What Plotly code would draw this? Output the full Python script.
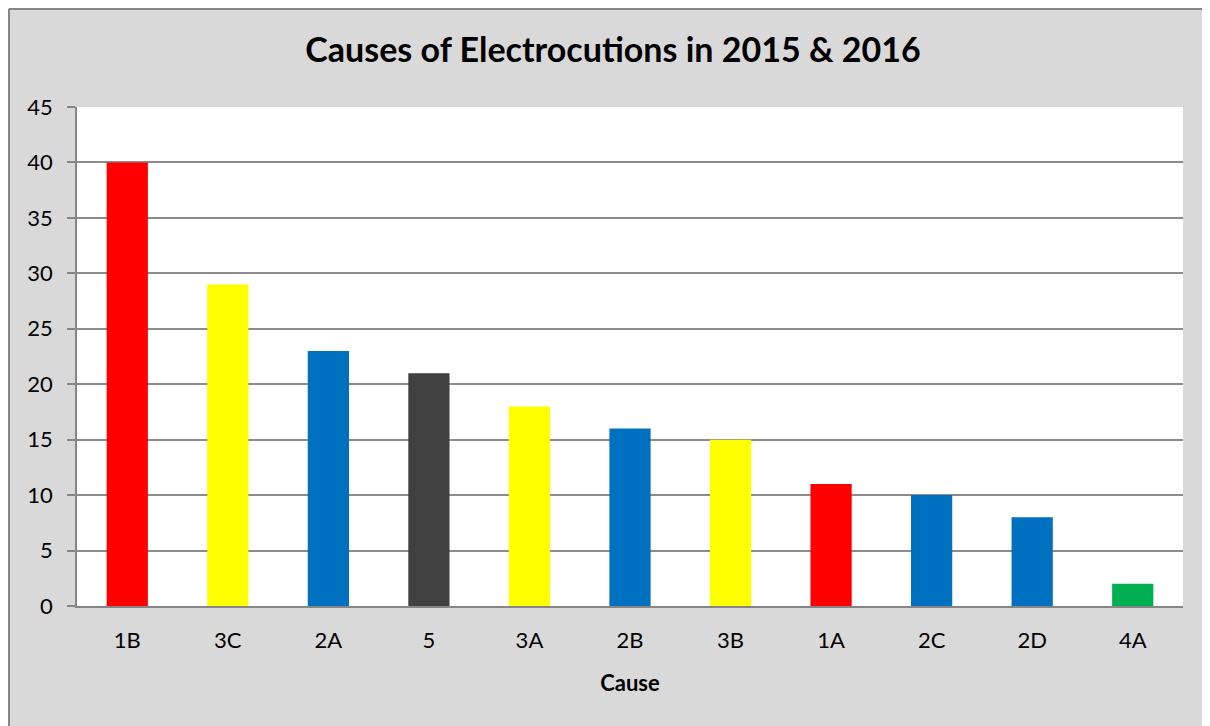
import plotly.graph_objects as go

causes = ['1B', '3C', '2A', '5', '3A', '2B', '3B', '1A', '2C', '2D', '4A']
counts = [40, 29, 23, 21, 18, 16, 15, 11, 10, 8, 2]
bar_colors = ['#FF0000', '#FFFF00', '#0070C0', '#404040', '#FFFF00', '#0070C0',
              '#FFFF00', '#FF0000', '#0070C0', '#0070C0', '#00B050']

# the page body adds an 8px margin, so the figure starts at (8, 8) on screen
W, H = 1210, 726
L, R, T, B = 69, 35, 99, 128
pw, ph = W - L - R, H - T - B

fig = go.Figure(go.Bar(
    x=causes,
    y=counts,
    marker=dict(color=bar_colors, line=dict(width=0)),
))

fig.update_layout(
    width=W, height=H,
    margin=dict(l=L, r=R, t=T, b=B),
    paper_bgcolor='#D9D9D9',
    plot_bgcolor='#FFFFFF',
    font=dict(family='Lato, Open Sans, sans-serif', color='#000000', size=22),
    title=dict(text='<b>Causes of Electrocutions in 2015 &amp; 2016</b>',
               x=0.5, xanchor='center', y=1 - 42 / H, yanchor='middle',
               font=dict(size=34)),
    bargap=0.59,
    showlegend=False,
)

fig.update_xaxes(
    title=dict(text='<b>Cause</b>', font=dict(size=22), standoff=23),
    showline=True, linecolor='#868686', linewidth=2,
    showgrid=False, ticks='', ticklabelstandoff=14,
)
fig.update_yaxes(
    range=[0, 45], dtick=5,
    showline=True, linecolor='#868686', linewidth=1.5,
    showgrid=True, gridcolor='#8C8C8C', gridwidth=1.5,
    ticks='outside', ticklen=8, tickcolor='#868686', tickwidth=1.5,
    zeroline=False, ticklabelstandoff=10,
)

# outer chart border: only the left and top edges show in the screenshot
x_left = -(L - 1) / pw
y_top = 1 + (T - 1) / ph
for x0, y0, x1, y1 in [(x_left, -1, x_left, y_top), (x_left, y_top, 2, y_top)]:
    fig.add_shape(type='line', xref='paper', yref='paper',
                  x0=x0, y0=y0, x1=x1, y1=y1,
                  line=dict(color='#868686', width=2), layer='below')

fig.write_html('out.html')
